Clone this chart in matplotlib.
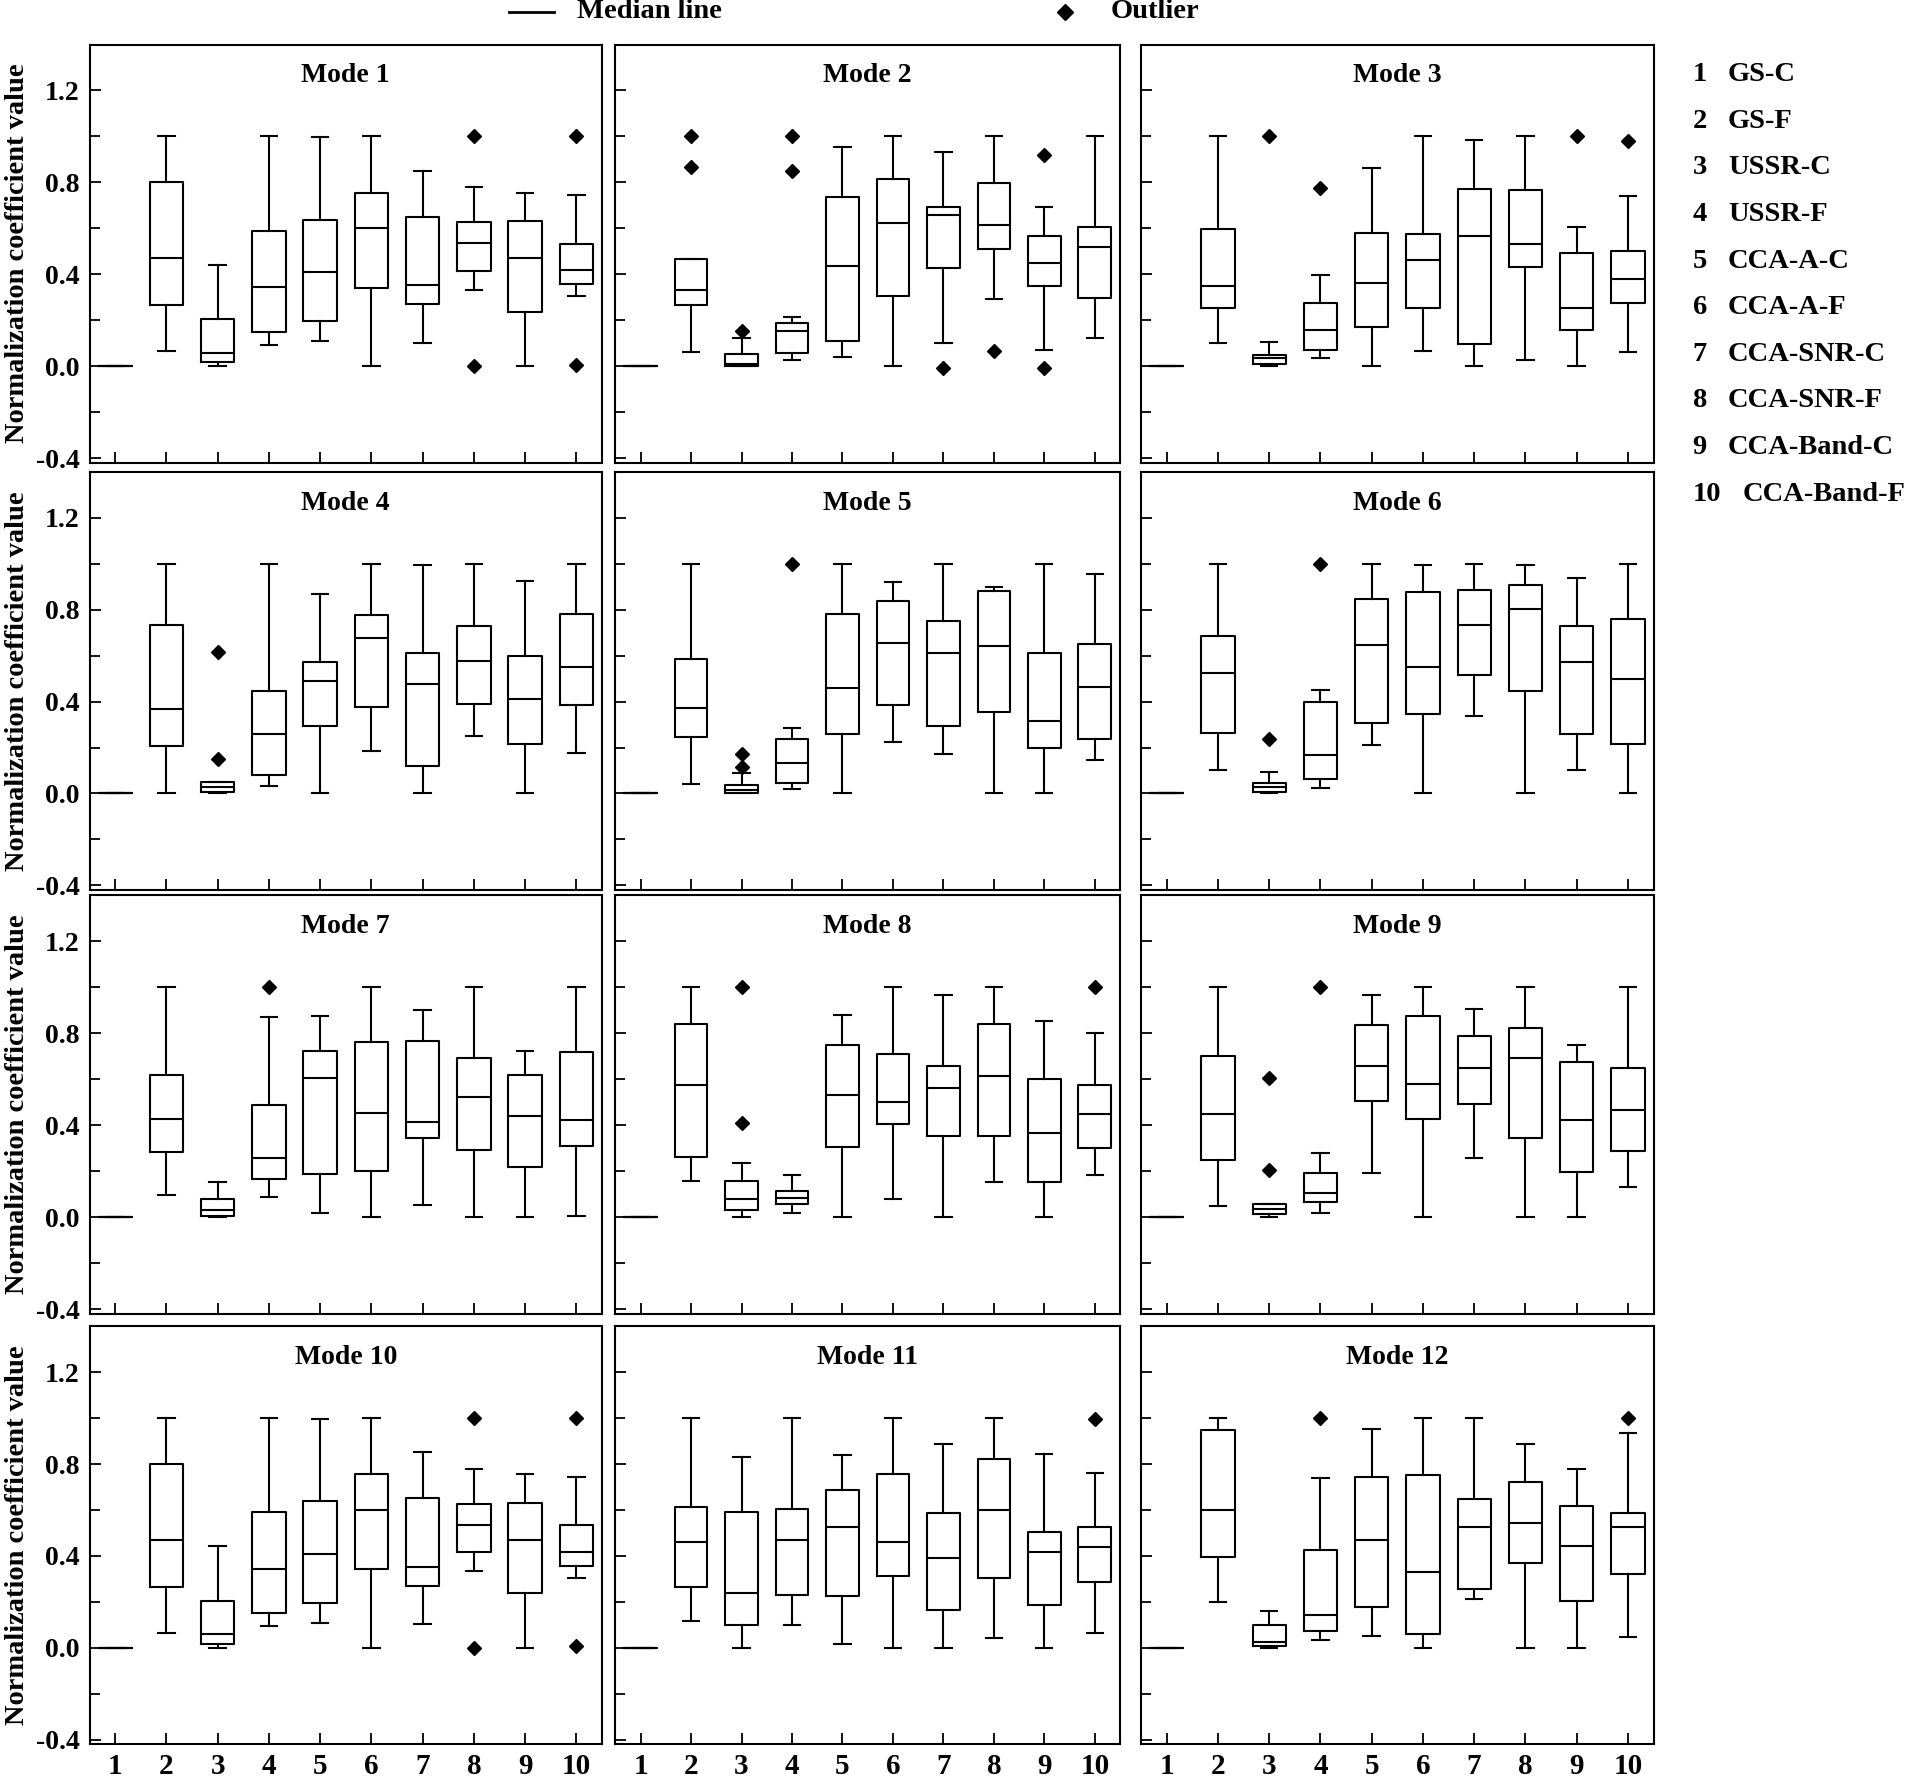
import matplotlib
matplotlib.use("Agg")
import matplotlib.pyplot as plt
from matplotlib.lines import Line2D

plt.rcParams['font.family'] = ['Liberation Serif', 'DejaVu Serif']
plt.rcParams['font.weight'] = 'bold'

# Methods (x positions 1..10)
methods = ['GS-C', 'GS-F', 'USSR-C', 'USSR-F', 'CCA-A-C', 'CCA-A-F',
           'CCA-SNR-C', 'CCA-SNR-F', 'CCA-Band-C', 'CCA-Band-F']
positions = list(range(1, 11))
mode_titles = ['Mode %d' % i for i in range(1, 13)]

# Box statistics, one row per mode
whis_low = [
    [0, 0.066, 0.0, 0.094, 0.110, 0.0, 0.103, 0.333, 0.0, 0.305],
    [0, 0.061, 0.0, 0.026, 0.042, 0.0, 0.102, 0.293, 0.069, 0.123],
    [0, 0.103, 0.0, 0.034, 0.0, 0.066, 0.0, 0.026, 0.0, 0.060],
    [0, 0.0, 0.0, 0.033, 0.0, 0.184, 0.0, 0.248, 0.0, 0.178],
    [0, 0.041, 0.0, 0.019, 0.0, 0.226, 0.173, 0.0, 0.0, 0.146],
    [0, 0.104, 0.0, 0.023, 0.212, 0.0, 0.336, 0.0, 0.104, 0.0],
    [0, 0.096, 0.0, 0.087, 0.016, 0.0, 0.052, 0.0, 0.0, 0.006],
    [0, 0.157, 0.0, 0.020, 0.0, 0.077, 0.0, 0.154, 0.0, 0.183],
    [0, 0.050, 0.0, 0.017, 0.194, 0.0, 0.259, 0.0, 0.0, 0.130],
    [0, 0.066, 0.0, 0.094, 0.110, 0.0, 0.103, 0.333, 0.0, 0.305],
    [0, 0.115, 0.0, 0.100, 0.017, 0.0, 0.0, 0.045, 0.0, 0.066],
    [0, 0.199, 0.0, 0.034, 0.051, 0.0, 0.213, 0.0, 0.0, 0.048],
]
q1 = [
    [0, 0.267, 0.018, 0.151, 0.196, 0.341, 0.270, 0.416, 0.237, 0.358],
    [0, 0.265, 0.003, 0.057, 0.108, 0.305, 0.428, 0.511, 0.350, 0.299],
    [0, 0.252, 0.008, 0.069, 0.172, 0.253, 0.095, 0.430, 0.157, 0.276],
    [0, 0.208, 0.006, 0.080, 0.293, 0.376, 0.118, 0.391, 0.217, 0.385],
    [0, 0.247, 0.001, 0.047, 0.257, 0.387, 0.293, 0.356, 0.200, 0.236],
    [0, 0.261, 0.006, 0.062, 0.308, 0.347, 0.516, 0.448, 0.260, 0.217],
    [0, 0.284, 0.007, 0.164, 0.186, 0.202, 0.345, 0.292, 0.217, 0.308],
    [0, 0.262, 0.032, 0.058, 0.304, 0.406, 0.354, 0.354, 0.151, 0.300],
    [0, 0.249, 0.012, 0.067, 0.504, 0.429, 0.490, 0.343, 0.197, 0.287],
    [0, 0.267, 0.018, 0.151, 0.196, 0.341, 0.270, 0.416, 0.237, 0.358],
    [0, 0.266, 0.100, 0.230, 0.227, 0.311, 0.163, 0.306, 0.186, 0.288],
    [0, 0.397, 0.010, 0.073, 0.177, 0.060, 0.255, 0.369, 0.206, 0.323],
]
median = [
    [0, 0.469, 0.059, 0.343, 0.410, 0.602, 0.352, 0.536, 0.469, 0.419],
    [0, 0.332, 0.009, 0.155, 0.438, 0.625, 0.657, 0.613, 0.451, 0.518],
    [0, 0.350, 0.035, 0.158, 0.364, 0.461, 0.568, 0.533, 0.252, 0.379],
    [0, 0.368, 0.027, 0.260, 0.491, 0.678, 0.478, 0.577, 0.409, 0.550],
    [0, 0.374, 0.013, 0.134, 0.457, 0.654, 0.609, 0.641, 0.316, 0.464],
    [0, 0.526, 0.026, 0.168, 0.645, 0.549, 0.735, 0.803, 0.573, 0.498],
    [0, 0.429, 0.033, 0.259, 0.605, 0.455, 0.412, 0.522, 0.438, 0.422],
    [0, 0.576, 0.080, 0.082, 0.531, 0.499, 0.560, 0.614, 0.367, 0.450],
    [0, 0.448, 0.034, 0.103, 0.657, 0.577, 0.649, 0.692, 0.423, 0.465],
    [0, 0.469, 0.059, 0.343, 0.410, 0.602, 0.352, 0.536, 0.469, 0.419],
    [0, 0.461, 0.237, 0.470, 0.525, 0.461, 0.392, 0.601, 0.415, 0.437],
    [0, 0.599, 0.026, 0.143, 0.470, 0.328, 0.524, 0.543, 0.444, 0.528],
]
q3 = [
    [0, 0.800, 0.205, 0.589, 0.637, 0.756, 0.651, 0.627, 0.630, 0.533],
    [0, 0.467, 0.053, 0.187, 0.736, 0.814, 0.695, 0.798, 0.565, 0.606],
    [0, 0.599, 0.051, 0.275, 0.578, 0.576, 0.770, 0.767, 0.495, 0.502],
    [0, 0.735, 0.049, 0.448, 0.570, 0.778, 0.609, 0.729, 0.600, 0.781],
    [0, 0.583, 0.037, 0.236, 0.783, 0.839, 0.749, 0.880, 0.609, 0.651],
    [0, 0.684, 0.045, 0.397, 0.845, 0.878, 0.884, 0.908, 0.729, 0.761],
    [0, 0.620, 0.080, 0.486, 0.724, 0.761, 0.767, 0.692, 0.618, 0.719],
    [0, 0.840, 0.156, 0.112, 0.751, 0.709, 0.656, 0.840, 0.601, 0.575],
    [0, 0.701, 0.058, 0.191, 0.838, 0.873, 0.787, 0.822, 0.673, 0.650],
    [0, 0.800, 0.205, 0.589, 0.637, 0.756, 0.651, 0.627, 0.630, 0.533],
    [0, 0.613, 0.590, 0.606, 0.689, 0.757, 0.587, 0.821, 0.505, 0.527],
    [0, 0.946, 0.101, 0.426, 0.743, 0.750, 0.647, 0.720, 0.618, 0.588],
]
whis_high = [
    [0, 1.0, 0.442, 1.0, 0.996, 1.0, 0.851, 0.779, 0.756, 0.744],
    [0, 0.467, 0.123, 0.214, 0.952, 1.0, 0.934, 1.0, 0.693, 1.0],
    [0, 1.0, 0.106, 0.399, 0.863, 1.0, 0.986, 1.0, 0.604, 0.740],
    [0, 1.0, 0.049, 1.0, 0.869, 1.0, 0.996, 1.0, 0.923, 1.0],
    [0, 1.0, 0.090, 0.286, 1.0, 0.921, 1.0, 0.899, 1.0, 0.956],
    [0, 0.999, 0.094, 0.451, 1.0, 0.992, 1.0, 0.994, 0.936, 1.0],
    [0, 1.0, 0.154, 0.871, 0.873, 1.0, 0.899, 1.0, 0.724, 1.0],
    [0, 1.0, 0.236, 0.183, 0.881, 1.0, 0.965, 1.0, 0.853, 0.803],
    [0, 1.0, 0.058, 0.280, 0.966, 1.0, 0.905, 1.0, 0.748, 1.0],
    [0, 1.0, 0.442, 1.0, 0.996, 1.0, 0.851, 0.779, 0.756, 0.744],
    [0, 1.0, 0.830, 1.0, 0.840, 1.0, 0.885, 1.0, 0.843, 0.763],
    [0, 1.0, 0.162, 0.740, 0.953, 1.0, 1.0, 0.886, 0.777, 0.934],
]
outliers = [
    [[], [], [], [], [], [], [], [1.0, 0.0], [], [1.0, 0.007]],
    [[], [1.0, 0.867], [0.152], [1.0, 0.848], [], [], [-0.007], [0.066], [0.919, -0.007], []],
    [[], [], [1.0], [0.774], [], [], [], [], [1.0], [0.982]],
    [[], [], [0.617, 0.149], [], [], [], [], [], [], []],
    [[], [], [0.170, 0.114], [1.0], [], [], [], [], [], []],
    [[], [], [0.235], [1.0], [], [], [], [], [], []],
    [[], [], [], [1.0], [], [], [], [], [], []],
    [[], [], [1.0, 0.409], [], [], [], [], [], [], [1.0]],
    [[], [], [0.605, 0.203], [1.0], [], [], [], [], [], []],
    [[], [], [], [], [], [], [], [1.0, 0.0], [], [1.0, 0.007]],
    [[], [], [], [], [], [], [], [], [], [0.997]],
    [[], [], [], [1.0], [], [], [], [], [], [1.0]],
]

fig = plt.figure(figsize=(19.05, 17.8), dpi=100)

col_left = [0.047, 0.323, 0.599]
col_width = [0.269, 0.265, 0.269]
row_bottom = [0.740, 0.500, 0.262, 0.020]
ax_h = 0.235

line_kw = dict(color='black', linewidth=1.5)
flier_kw = dict(marker='D', markerfacecolor='black', markeredgecolor='black',
                markersize=7, linestyle='none')

for m in range(12):
    r, c = divmod(m, 3)
    ax = fig.add_axes([col_left[c], row_bottom[r], col_width[c], ax_h])

    stats = []
    for j in range(10):
        stats.append(dict(whislo=whis_low[m][j], q1=q1[m][j], med=median[m][j],
                          q3=q3[m][j], whishi=whis_high[m][j],
                          fliers=outliers[m][j]))
    ax.bxp(stats, positions=positions, widths=0.65, capwidths=0.32,
           boxprops=line_kw, whiskerprops=line_kw, capprops=line_kw,
           medianprops=line_kw, flierprops=flier_kw)

    ax.set_xlim(0.5, 10.5)
    ax.set_ylim(-0.42, 1.40)
    ax.set_xticks(positions)
    ax.set_yticks([-0.4, 0.0, 0.4, 0.8, 1.2])
    ax.set_yticks([-0.2, 0.2, 0.6, 1.0], minor=True)
    ax.tick_params(which='major', direction='in', length=8, width=1.3)
    ax.tick_params(which='minor', direction='in', length=7, width=1.3)
    ax.tick_params(axis='y', labelsize=20, pad=7)
    ax.tick_params(axis='x', labelsize=21, pad=6)
    for sp in ax.spines.values():
        sp.set_linewidth(1.5)

    if c == 0:
        ax.set_yticklabels(['-0.4', '0.0', '0.4', '0.8', '1.2'])
        ax.set_ylabel('Normalization coefficient value', fontsize=20.5,
                      fontweight='bold')
        ax.yaxis.set_label_coords(-0.116, 0.5)
    else:
        ax.tick_params(labelleft=False)

    if r == 3:
        ax.set_xticklabels([str(p) for p in positions])
    else:
        ax.tick_params(labelbottom=False)

    ax.text(0.5, 0.925, mode_titles[m], transform=ax.transAxes,
            ha='center', va='center', fontsize=20, fontweight='bold')

# Top legend
fig.add_artist(Line2D([0.267, 0.291], [0.9935, 0.9935], color='black',
                      linewidth=2, transform=fig.transFigure))
fig.text(0.303, 0.9935, 'Median line', fontsize=20.5, fontweight='bold',
         ha='left', va='center')
fig.add_artist(Line2D([0.559], [0.9935], marker='D', markersize=8,
                      color='black', linestyle='none',
                      transform=fig.transFigure))
fig.text(0.583, 0.9935, 'Outlier', fontsize=20.5, fontweight='bold',
         ha='left', va='center')

# Right-hand key of method numbers
for i, name in enumerate(methods):
    y = 0.958 - i * 0.02618
    fig.text(0.8885, y, str(i + 1), fontsize=20.5, fontweight='bold',
             ha='left', va='center')
    fig.text(0.907 if i < 9 else 0.915, y, name, fontsize=20.5,
             fontweight='bold', ha='left', va='center')

fig.savefig('out.png', dpi=100)
